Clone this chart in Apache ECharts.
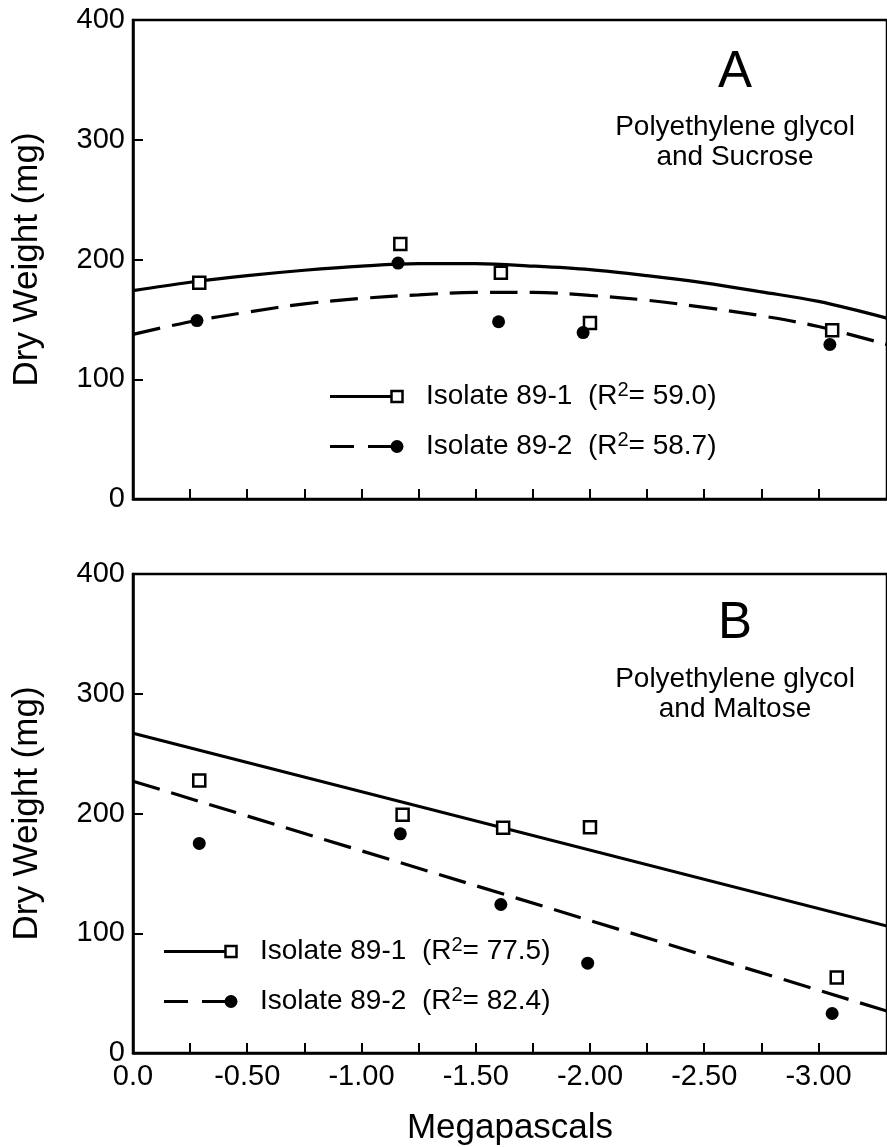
<!DOCTYPE html>
<html><head><meta charset="utf-8">
<script src="https://cdn.jsdelivr.net/npm/echarts@6/dist/echarts.min.js"></script>
<style>html,body{margin:0;padding:0;background:#fff}#c{width:887px;height:1147px}</style>
</head><body><div id="c"></div>
<script>
// ---- data ----
const xTickValues = [0.25, 0.5, 0.75, 1, 1.25, 1.5, 1.75, 2, 2.25, 2.5, 2.75, 3];
const xLabelValues = [0, 0.5, 1, 1.5, 2, 2.5, 3];
const seriesNames = ['Isolate 89-1', 'Isolate 89-2'];
const panelLetters = ['A', 'B'];
const panelSubtitles = [['Polyethylene glycol', 'and Sucrose'], ['Polyethylene glycol', 'and Maltose']];
const rSquaredA = ['59.0', '58.7'];
const rSquaredB = ['77.5', '82.4'];

// Panel A observations (x = |MPa|)
const aIso1X = [0.29, 1.17, 1.61, 2.00, 3.06];
const aIso1Y = [180.5, 213, 189, 147, 141];
const aIso2X = [0.28, 1.16, 1.60, 1.97, 3.05];
const aIso2Y = [149, 197, 148, 139, 129];
// Panel A fitted curves, read along the axis
const aCurveX = [0, 0.25, 0.5, 0.75, 1, 1.25, 1.5, 1.75, 2, 2.25, 2.5, 2.75, 3, 3.3];
const aCurve1Y = [174, 181, 186.5, 191, 194.5, 196.5, 196.5, 194.5, 191.5, 186.5, 180.5, 173, 165, 151];
const aCurve2Y = [137.5, 148, 156, 163, 167.5, 170.5, 172.5, 172.5, 170, 166, 160, 153, 144, 129];

// Panel B observations
const bIso1X = [0.29, 1.18, 1.62, 2.00, 3.08];
const bIso1Y = [227.5, 199, 188, 188.5, 63];
const bIso2X = [0.29, 1.17, 1.61, 1.99, 3.06];
const bIso2Y = [175, 183, 124, 75, 33];
// Panel B fitted lines
const bLineX = [0, 3.3];
const bLine1Y = [267, 106];
const bLine2Y = [227, 35];

// ---- chart ----
const FONT = '"Liberation Sans", Arial, Helvetica, sans-serif';
const zip = (xs, ys) => xs.map((x, i) => [x, ys[i]]);
const grids = [
  {left: 133, top: 20, width: 759, height: 479},
  {left: 133, top: 574, width: 759, height: 479}
];
grids.forEach(g => { g.show = true; g.borderColor = '#000'; g.borderWidth = 2.5; g.backgroundColor = 'transparent'; });

function xAxis(gi, showLabels) {
  return {
    type: 'value', gridIndex: gi, min: 0, max: 3.3,
    axisLine: {show: true, lineStyle: {color: '#000', width: 2.5}},
    axisTick: {show: true, inside: true, length: 10, customValues: xTickValues, lineStyle: {color: '#000', width: 2}},
    axisLabel: {show: showLabels, customValues: xLabelValues, fontSize: 29, color: '#000', fontFamily: FONT, margin: 9,
      formatter: v => v === 0 ? '0.0' : '-' + v.toFixed(2)},
    splitLine: {show: false},
    name: showLabels ? 'Megapascals' : '', nameLocation: 'middle', nameGap: 58,
    nameTextStyle: {fontSize: 35, color: '#000', fontFamily: FONT}
  };
}
function yAxis(gi) {
  return {
    type: 'value', gridIndex: gi, min: 0, max: 400, interval: 100,
    axisLine: {show: true, lineStyle: {color: '#000', width: 2.5}},
    axisTick: {show: true, inside: true, length: 10, lineStyle: {color: '#000', width: 2}},
    axisLabel: {fontSize: 29, color: '#000', fontFamily: FONT, margin: 8},
    splitLine: {show: false},
    name: 'Dry Weight (mg)', nameLocation: 'middle', nameGap: 88,
    nameTextStyle: {fontSize: 35, color: '#000', fontFamily: FONT}
  };
}
function curve(gi, data, dashed) {
  return {type: 'line', xAxisIndex: gi, yAxisIndex: gi, data: data, smooth: 0.35, symbol: 'none',
    lineStyle: {color: '#000', width: 3.2, type: dashed ? [28, 12] : 'solid'}, z: 2};
}
function pts(gi, data, square) {
  return {type: 'scatter', xAxisIndex: gi, yAxisIndex: gi, data: data,
    symbol: square ? 'rect' : 'circle', symbolSize: square ? 12 : 13,
    itemStyle: square ? {color: '#fff', borderColor: '#000', borderWidth: 2.5, opacity: 1} : {color: '#000', opacity: 1}, z: 5};
}

function legend(x0, x1, tx, rows, rVals) {
  const els = [];
  rows.forEach((y, i) => {
    els.push({type: 'line', shape: {x1: x0, y1: y, x2: x1, y2: y},
      style: {stroke: '#000', lineWidth: 3.2, lineDash: i === 1 ? [24, 14] : null}});
    if (i === 0) els.push({type: 'rect', shape: {x: x1 - 5.5, y: y - 5.5, width: 11, height: 11},
      style: {fill: '#fff', stroke: '#000', lineWidth: 2.5}});
    else els.push({type: 'circle', shape: {cx: x1, cy: y, r: 6.5}, style: {fill: '#000'}});
    els.push({type: 'text', x: tx, y: y,
      style: {text: '{t|' + seriesNames[i] + '  (R}{s|2}{t|= ' + rVals[i] + ')}',
        verticalAlign: 'middle', align: 'left',
        rich: {t: {fontSize: 28, lineHeight: 32, fontFamily: FONT, fill: '#000', verticalAlign: 'middle'},
               s: {fontSize: 20, lineHeight: 20, fontFamily: FONT, fill: '#000', verticalAlign: 'top'}}}});
  });
  return els;
}
function label(x, y, text, size) {
  return {type: 'text', x: x, y: y, style: {text: text, fontSize: size, fontFamily: FONT, fill: '#000', align: 'center', verticalAlign: 'middle'}};
}

const graphics = [
  label(735, 72.5, panelLetters[0], 51),
  label(735, 127, panelSubtitles[0][0], 28),
  label(735, 157.5, panelSubtitles[0][1], 28),
  label(735, 623.5, panelLetters[1], 51),
  label(735, 679, panelSubtitles[1][0], 28),
  label(735, 709, panelSubtitles[1][1], 28),
  ...legend(330, 397, 426, [396.5, 446.5], rSquaredA),
  ...legend(164, 231, 260, [951.5, 1001.5], rSquaredB)
];

const chart = echarts.init(document.getElementById('c'), null, {renderer: 'canvas'});
chart.setOption({
  animation: false,
  backgroundColor: '#fff',
  grid: grids,
  xAxis: [xAxis(0, false), xAxis(1, true)],
  yAxis: [yAxis(0), yAxis(1)],
  series: [
    curve(0, zip(aCurveX, aCurve1Y), false),
    curve(0, zip(aCurveX, aCurve2Y), true),
    pts(0, zip(aIso1X, aIso1Y), true),
    pts(0, zip(aIso2X, aIso2Y), false),
    curve(1, zip(bLineX, bLine1Y), false),
    curve(1, zip(bLineX, bLine2Y), true),
    pts(1, zip(bIso1X, bIso1Y), true),
    pts(1, zip(bIso2X, bIso2Y), false)
  ],
  graphic: graphics
});
</script></body></html>
